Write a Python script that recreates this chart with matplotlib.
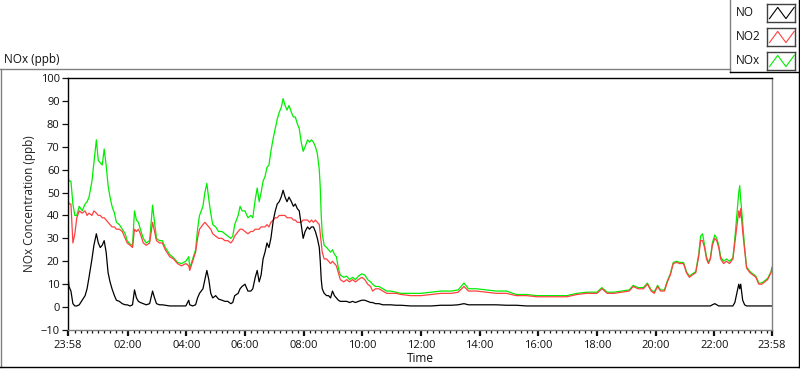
import matplotlib
matplotlib.use("Agg")
import matplotlib.pyplot as plt
from matplotlib.lines import Line2D
from matplotlib.ticker import FixedLocator

# minutes since midnight (chart runs 23:58 -> 23:58 next day)
minutes = [
    -2, 0, 4, 8, 12, 16, 21, 27, 33, 37,
    41, 47, 51, 56, 60, 64, 68, 72, 76, 80,
    84, 88, 93, 97, 103, 109, 115, 119, 125, 130,
    134, 138, 142, 146, 152, 158, 165, 171, 175, 179,
    185, 191, 197, 206, 214, 222, 230, 239, 245, 247,
    253, 259, 263, 267, 274, 278, 282, 286, 290, 294,
    300, 306, 313, 319, 325, 331, 335, 339, 346, 350,
    354, 360, 366, 372, 376, 381, 385, 389, 393, 397,
    401, 405, 409, 413, 418, 422, 426, 430, 434, 438,
    442, 446, 450, 455, 459, 463, 467, 471, 475, 479,
    483, 488, 492, 496, 500, 504, 508, 512, 514, 516,
    518, 522, 527, 531, 535, 539, 543, 547, 551, 555,
    562, 568, 574, 580, 586, 592, 599, 605, 611, 617,
    621, 627, 634, 642, 650, 658, 669, 679, 699, 720,
    741, 761, 782, 796, 808, 817, 833, 854, 874, 895,
    915, 936, 957, 977, 998, 1018, 1039, 1059, 1080, 1090,
    1101, 1115, 1131, 1146, 1154, 1164, 1175, 1183, 1191, 1197,
    1204, 1210, 1218, 1224, 1230, 1236, 1243, 1249, 1257, 1263,
    1269, 1275, 1282, 1288, 1292, 1296, 1300, 1304, 1308, 1312,
    1316, 1321, 1325, 1329, 1333, 1339, 1345, 1351, 1358, 1362,
    1366, 1370, 1372, 1374, 1378, 1382, 1386, 1393, 1399, 1405,
    1411, 1417, 1423, 1429, 1436, 1438,
]

no = [
    13.5, 9, 7, 1.5, 0.5, 0.5, 1, 3, 5, 8,
    13, 21, 27, 32, 28, 26, 27, 29, 24, 15,
    11, 8, 5, 3, 2.5, 1.5, 1, 1, 0.5, 1,
    7.5, 4, 2.5, 2, 1.5, 1, 1.5, 7, 4, 1.5,
    1, 1, 0.8, 0.5, 0.5, 0.5, 0.5, 0.5, 3, 1,
    0.5, 1, 4, 6, 8, 12, 16, 12, 6, 4,
    5, 3.5, 3, 2.5, 2.5, 1.5, 2, 5, 6, 8,
    9, 10, 7, 7, 8, 13, 16, 11, 14, 21,
    24, 28, 26, 30, 38, 42, 45, 46, 48, 51,
    48, 46, 48, 46, 44, 45, 43, 42, 36, 30,
    33, 35, 34, 35, 35, 33, 30, 26, 20, 12,
    8, 6, 5, 5, 4, 7, 5, 4, 3, 2.5,
    2.5, 2.5, 2, 2.5, 2, 2.5, 3, 3, 2.5, 2,
    2, 1.5, 1.5, 1, 1, 1, 0.8, 0.8, 0.5, 0.5,
    0.5, 0.8, 0.8, 1, 1.5, 1, 1, 1, 1, 0.8,
    0.8, 0.5, 0.5, 0.5, 0.5, 0.5, 0.5, 0.5, 0.5, 0.5,
    0.5, 0.5, 0.5, 0.5, 0.5, 0.5, 0.5, 0.5, 0.5, 0.5,
    0.5, 0.5, 0.5, 0.5, 0.5, 0.5, 0.5, 0.5, 0.5, 0.5,
    0.5, 0.5, 0.5, 0.5, 0.5, 0.5, 0.5, 0.5, 0.5, 0.5,
    1, 1.5, 1, 0.5, 0.5, 0.5, 0.5, 0.5, 0.5, 2,
    6, 10, 8, 10, 3, 1, 0.5, 0.5, 0.5, 0.5,
    0.5, 0.5, 0.5, 0.5, 0.5, 0.5,
]

no2 = [
    47, 45, 45, 28, 32, 39, 42, 41, 42, 40,
    41, 40, 42, 41, 40, 40, 39, 39, 38, 37,
    36, 35, 35, 34, 34, 33, 30, 28, 27, 26,
    34, 33, 34, 32, 28, 27, 28, 37, 33, 29,
    28, 28, 25, 22, 21, 19, 18, 19, 18, 16,
    20, 24, 30, 34, 36, 37, 36, 35, 34, 32,
    31, 30, 30, 29, 29, 28, 29, 31, 33, 34,
    34, 33, 32, 33, 33, 34, 34, 34, 35, 35,
    35, 36, 35, 37, 38, 39, 39, 40, 40, 40,
    40, 39, 39, 39, 38, 38, 37, 37, 37, 38,
    38, 38, 37, 38, 37, 38, 37, 36, 32, 28,
    24, 21, 21, 20, 19, 20, 19, 18, 15, 12,
    11, 12, 11, 12, 11, 12, 13, 12, 10, 9,
    7, 8, 8, 7, 6, 6, 6, 5.5, 5, 5,
    5.5, 6, 6, 6.5, 9, 7, 7, 6.5, 6, 6,
    5, 5, 4.5, 4.5, 4.5, 4.5, 5.5, 6, 6, 8,
    6, 6, 6.5, 7, 9, 8, 8, 10, 7, 6,
    9, 7, 7, 11, 14, 19, 19.5, 19, 19, 15,
    13, 14, 15, 22, 29, 29, 26, 21, 19, 21,
    27, 30, 29, 26, 21, 19, 20, 19, 21, 28,
    35, 42, 39, 43, 33, 25, 17, 15, 14, 13,
    10, 10, 11, 12, 15, 17,
]

nox = [
    57, 55, 55, 45, 40, 40, 44, 42, 45, 46,
    48, 55, 63, 73, 64, 63, 62, 69, 62, 53,
    48, 44, 41, 37, 36, 34, 32, 29, 27.5, 27,
    42, 38, 37, 34, 30, 28, 29, 44.5, 37, 30,
    29, 29, 26, 23, 21.5, 19.5, 19, 20, 22, 17,
    21, 25, 34, 40, 44, 50, 54, 47, 41, 36,
    35, 33, 33, 32, 31, 30, 31, 36, 40, 44,
    42, 42, 39, 40, 39, 47, 52, 46, 50, 55,
    57, 61, 62, 68, 74, 78, 82, 85, 87, 91,
    88, 86, 88, 85, 83, 83, 80, 78, 72, 68,
    70, 73, 72, 73, 72, 70, 67, 60, 52, 40,
    32, 27, 26, 25, 24, 25, 23, 22, 17, 14,
    13, 13.5, 12, 13, 12, 13.5, 14.5, 14, 12, 11,
    10, 9, 9, 8, 7, 7, 6.5, 6, 6, 6,
    6.5, 7, 7, 7.5, 10.5, 8, 8, 7.5, 7, 7,
    5.5, 5.5, 5, 5, 5, 5, 6, 6.5, 6.5, 8.5,
    6.5, 6.5, 7, 7.5, 9.5, 8.5, 8.5, 10.5, 7.5, 6.5,
    9.5, 7.5, 7.5, 11.5, 14.5, 19.5, 20, 19.5, 19.5, 15.5,
    13.5, 14.5, 15.5, 23, 31, 32, 27, 22, 19.5, 21.5,
    28, 31.5, 30, 27, 22, 20, 21, 20, 21.5, 30,
    40, 50, 53, 47, 37, 26, 17.5, 15.5, 14.5, 13.5,
    10.5, 10.5, 11.5, 12.5, 15.5, 17.5,
]

tick_pos = [-2, 120, 240, 360, 480, 600, 720, 840, 960, 1080, 1200, 1320, 1438]
tick_labels = ["23:58", "02:00", "04:00", "06:00", "08:00", "10:00", "12:00",
               "14:00", "16:00", "18:00", "20:00", "22:00", "23:58"]
series_names = ["NO", "NO2", "NOx"]
series_colors = ["#000000", "#ff4040", "#00ee00"]

plt.rcParams["font.family"] = ["Open Sans", "DejaVu Sans"]
plt.rcParams["font.size"] = 8

W, H = 800, 369
fig = plt.figure(figsize=(W / 100, H / 100), dpi=100)
fig.patch.set_facecolor("white")


def fx(x):
    return x / W


def fy(y):
    return 1 - y / H


def px_line(x0, y0, x1, y1, color):
    fig.add_artist(Line2D([fx(x0), fx(x1)], [fy(y0), fy(y1)],
                          transform=fig.transFigure, color=color, lw=1.0))


# plot area
ax = fig.add_axes([fx(68), fy(330), fx(772) - fx(68), fy(78) - fy(330)])
ax.plot(minutes, nox, color=series_colors[2], lw=0.9)
ax.plot(minutes, no2, color=series_colors[1], lw=0.9)
ax.plot(minutes, no, color=series_colors[0], lw=0.9)

ax.set_xlim(-2, 1438)
ax.set_ylim(-10, 100)
ax.set_yticks(range(-10, 101, 10))
ax.set_xticks(tick_pos)
ax.set_xticklabels(tick_labels)
minor = [m for m in range(0, 1438, 12) if m % 120 != 0]
ax.xaxis.set_minor_locator(FixedLocator(minor))

ax.tick_params(axis="y", length=4, width=0.9, pad=2, colors="#101010")
ax.tick_params(axis="x", which="major", length=4, width=1.6, pad=3, colors="#101010")
ax.tick_params(axis="x", which="minor", length=2.5, width=0.9, colors="#101010")

ax.spines["left"].set_color("black")
ax.spines["top"].set_color("black")
ax.spines["right"].set_color("#808080")
ax.spines["bottom"].set_color("#808080")
for s in ax.spines.values():
    s.set_linewidth(1.0)

# axis titles
fig.text(fx(30), fy(204), "NOx Concentration (ppb)", rotation=90, ha="center", va="center",
         fontsize=8.5, color="#202020")
fig.text(fx(420), fy(359), "Time", ha="center", va="center", fontsize=8.5, color="#101010")

# graph title
fig.text(fx(4), fy(59), "NOx (ppb)", ha="left", va="center", fontsize=8.5, color="#101010")

# outer frame
px_line(0, 69, 730, 69, "#808080")
px_line(1, 69, 1, 367, "#808080")
px_line(0, 367, 800, 367, "black")
px_line(799, 0, 799, 367, "black")

# plot legend box
px_line(730, 0, 730, 72, "#808080")
px_line(730, 72, 799, 72, "black")
for i, (name, col) in enumerate(zip(series_names, series_colors)):
    top = 4 + i * 24
    fig.text(fx(736), fy(top + 9), name, ha="left", va="center", fontsize=8.5, color="#101010")
    sw = fig.add_axes([fx(767), fy(top + 18), fx(795) - fx(767), fy(top) - fy(top + 18)])
    sw.plot([0, 1, 2, 3], [0, 1, 0, 1], color=col, lw=0.8)
    sw.set_xlim(-0.3, 3.1)
    sw.set_ylim(-0.3, 1.3)
    sw.set_xticks([])
    sw.set_yticks([])
    for s in sw.spines.values():
        s.set_color("#404040")
        s.set_linewidth(1.0)

fig.savefig("out.png", dpi=100)
